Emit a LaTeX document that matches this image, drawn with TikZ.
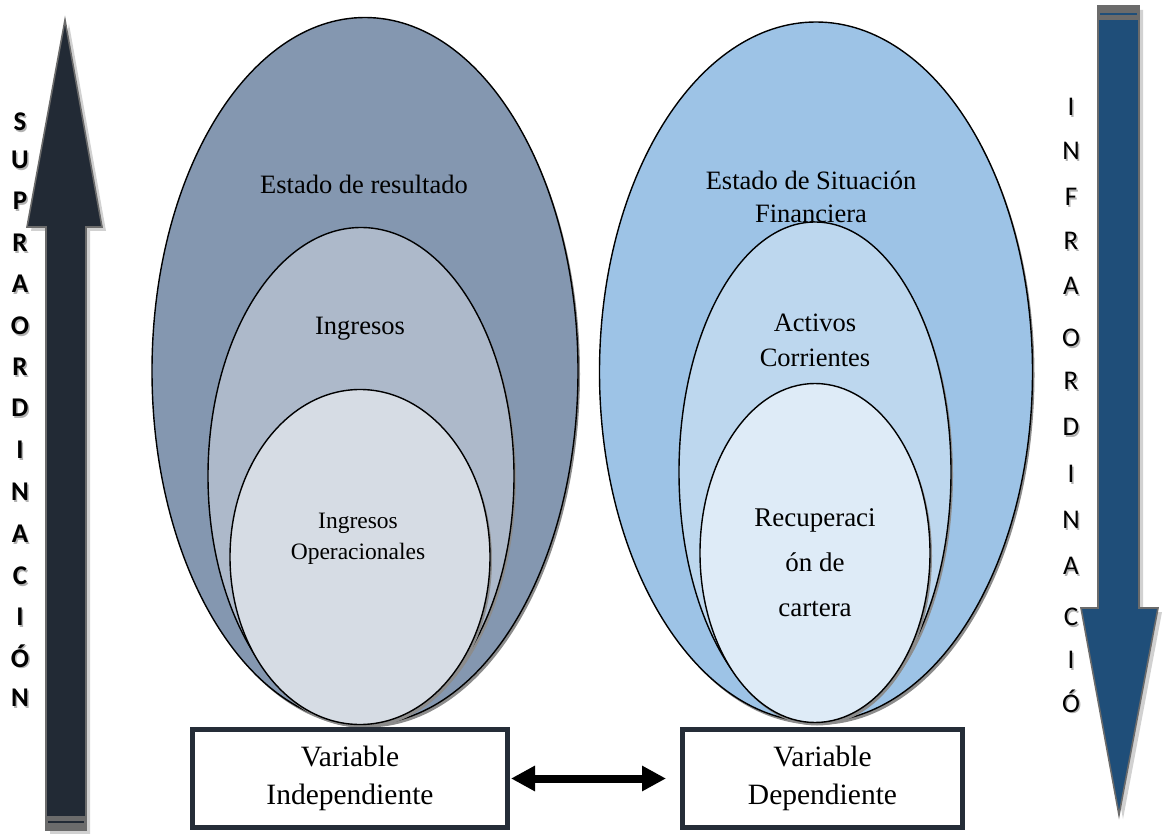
\documentclass[tikz,border=0pt]{standalone}
\usepackage{fontspec}
\setmainfont{Liberation Serif}
\newfontfamily\calfont{Carlito}
\usetikzlibrary{shapes.geometric,arrows.meta}
\definecolor{lo}{HTML}{8497B0}
\definecolor{lm}{HTML}{ADB9CA}
\definecolor{li}{HTML}{D6DCE4}
\definecolor{ro}{HTML}{9DC3E6}
\definecolor{rm}{HTML}{BDD7EE}
\definecolor{ri}{HTML}{DEEBF7}
\definecolor{darkarrow}{HTML}{222A35}
\definecolor{bluearrow}{HTML}{1F4E79}
\definecolor{arrowedge}{HTML}{6B6B6B}
\definecolor{boxedge}{HTML}{252D38}
\tikzset{
  ell/.style={ellipse, draw=black, line width=1.4pt, inner sep=0pt},
  ellshadow/.style={ellipse, fill=black!45, inner sep=0pt},
  lbl/.style={align=center, text=black, inner sep=0pt},
  varbox/.style={draw=boxedge, line width=5pt, fill=white, minimum height=98pt, inner sep=0pt, align=center, font=\fontsize{29.5}{38}\selectfont},
  letterL/.style={font=\calfont\bfseries\fontsize{27}{27}\selectfont, inner sep=0pt},
  letterR/.style={font=\calfont\fontsize{27}{27}\selectfont, inner sep=0pt},
}
\begin{document}
\begin{tikzpicture}[x=1pt,y=-1pt]
\useasboundingbox (0,0) rectangle (1168,834);

% ---------- left vertical arrow ----------
\fill[black!18] (69,24) -- (106,231) -- (90,231) -- (90,834) -- (50,834) -- (50,231) -- (31,231) -- cycle;
\draw[fill=darkarrow, draw=arrowedge, line width=1.6pt] (65,20) -- (102,227) -- (86,227) -- (86,830) -- (46,830) -- (46,227) -- (27,227) -- cycle;
\fill[arrowedge] (46,816) rectangle (86,830);
\draw[darkarrow, line width=1.2pt] (48,822) -- (84,822);

% ---------- right vertical arrow ----------
\fill[black!18] (1102,10) -- (1143,10) -- (1143,612) -- (1162,612) -- (1123,819) -- (1085,612) -- (1102,612) -- cycle;
\draw[fill=bluearrow, draw=arrowedge, line width=1.6pt] (1098,6) -- (1139,6) -- (1139,608) -- (1158,608) -- (1119,815) -- (1081,608) -- (1098,608) -- cycle;
\fill[arrowedge] (1098,6) rectangle (1139,20);
\draw[bluearrow, line width=1.2pt] (1100,14) -- (1137,14);

% ---------- letters ----------
\foreach \ch/\yy [count=\i] in {S/122,U/160,P/201,R/243,A/284,O/326,R/367,D/408,I/450,N/492,A/534,C/576,I/617,Ó/656,N/698}{
  \node[letterL, text=black!30] (sl\i s) at (21.5,\yy+1.5) {\ch};
  \node[letterL] (sl\i) at (20,\yy) {\ch};
}
\foreach \ch/\yy [count=\i] in {I/107,N/151,F/197,R/241,A/286,O/338,R/381,D/427,I/474,N/520,A/566,C/617,I/660,Ó/701}{
  \node[letterR, text=black!30] (ir\i s) at (1072.5,\yy+1.5) {\ch};
  \node[letterR] (ir\i) at (1071,\yy) {\ch};
}

% ---------- left ellipses ----------
\node[ellshadow, minimum width=426pt, minimum height=707pt] (los) at (367,374) {};
\node[ell, fill=lo, minimum width=426pt, minimum height=707pt] (lout) at (365,371) {};
\node[ellshadow, minimum width=306pt, minimum height=497pt] (lms) at (363,479) {};
\node[ell, fill=lm, minimum width=306pt, minimum height=497pt] (lmid) at (361,476) {};
\node[ellshadow, minimum width=260pt, minimum height=335pt] (lis) at (362,560) {};
\node[ell, fill=li, minimum width=260pt, minimum height=335pt] (lin) at (360,557) {};

\node[lbl, font=\fontsize{26.5}{33}\selectfont] (t1) at (364,184) {Estado de resultado};
\node[lbl, font=\fontsize{26.5}{33}\selectfont] (t2) at (360,329) {Ingresos};
\node[lbl, font=\fontsize{23.5}{31}\selectfont] (t3) at (358,539) {Ingresos\\Operacionales};

% ---------- right ellipses ----------
\node[ellshadow, minimum width=433pt, minimum height=700pt] (ros) at (818,375) {};
\node[ell, fill=ro, minimum width=433pt, minimum height=700pt] (rout) at (816,372) {};
\node[ellshadow, minimum width=272pt, minimum height=500pt] (rms) at (817,475) {};
\node[ell, fill=rm, minimum width=272pt, minimum height=500pt] (rmid) at (815,472) {};
\node[ellshadow, minimum width=230pt, minimum height=339pt] (ris) at (817,556) {};
\node[ell, fill=ri, minimum width=230pt, minimum height=339pt] (rin) at (815,553) {};

\node[lbl, font=\fontsize{26.5}{33}\selectfont] (t4) at (811,197) {Estado de Situación\\Financiera};
\node[lbl, font=\fontsize{26.5}{35}\selectfont] (t5) at (815,340) {Activos\\Corrientes};
\node[lbl, font=\fontsize{27}{45}\selectfont] (t6) at (815,563) {Recuperaci\\ón de\\cartera};

% ---------- variable boxes ----------
\node[varbox, minimum width=315pt] (vi) at (350,778.5) {Variable\\Independiente};
\node[varbox, minimum width=280pt] (vd) at (822.5,778.5) {Variable\\Dependiente};

\draw[line width=8pt, {Triangle[length=24pt,width=24pt]}-{Triangle[length=24pt,width=24pt]}, shorten <=1pt, shorten >=14pt] (vi.east) -- (vd.west);
\end{tikzpicture}
\end{document}
